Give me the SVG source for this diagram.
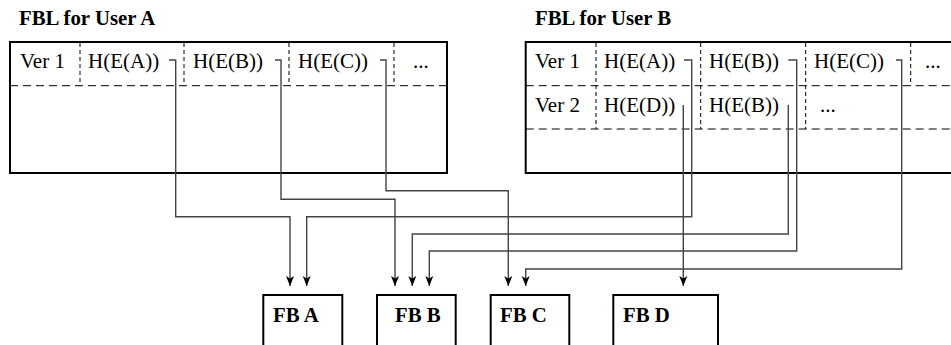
<svg xmlns="http://www.w3.org/2000/svg" width="951" height="345" viewBox="0 0 951 345">
<style>
text{font-family:"Liberation Serif","Times New Roman",serif;fill:#000}
.t{font-size:20.8px;font-weight:bold}
.c{font-size:21px}
.box{fill:#fff;stroke:#000;stroke-width:2}
.d{stroke:#000;stroke-width:1;stroke-dasharray:8,5;fill:none}
.v{stroke:#000;stroke-width:1;stroke-dasharray:4,3;fill:none}
.cn{fill:none;stroke:#444;stroke-width:1.4}
</style>
<defs>
<marker id="ah" markerUnits="userSpaceOnUse" markerWidth="10" markerHeight="10" viewBox="0 0 10 10" refX="10" refY="5" orient="auto">
<path d="M0,1 L10,5 L0,9 L2.5,5 z" fill="#000"/>
</marker>
</defs>
<rect width="951" height="345" fill="#fff"/>
<g id="fbl-a">
<text class="t" x="19" y="25">FBL for User A</text>
<rect class="box" x="10" y="42" width="437" height="131"/>
<line class="d" x1="10" y1="85.7" x2="447" y2="85.7"/>
<line class="v" x1="80" y1="43" x2="80" y2="85.7"/>
<line class="v" x1="184" y1="43" x2="184" y2="85.7"/>
<line class="v" x1="289" y1="43" x2="289" y2="85.7"/>
<line class="v" x1="394" y1="43" x2="394" y2="85.7"/>
<text class="c" x="20" y="68">Ver 1</text>
<text class="c" x="88" y="68">H(E(A))</text>
<text class="c" x="193" y="68">H(E(B))</text>
<text class="c" x="298" y="68">H(E(C))</text>
<text class="c" x="413" y="68">...</text>
</g>
<g id="fbl-b">
<text class="t" x="535" y="25">FBL for User B</text>
<rect class="box" x="525.7" y="42" width="440" height="131"/>
<line class="d" x1="525.7" y1="85.7" x2="951" y2="85.7"/>
<line class="d" x1="525.7" y1="129" x2="951" y2="129"/>
<line class="v" x1="596" y1="43" x2="596" y2="129"/>
<line class="v" x1="700.7" y1="43" x2="700.7" y2="129"/>
<line class="v" x1="805.7" y1="43" x2="805.7" y2="129"/>
<line class="v" x1="910.7" y1="43" x2="910.7" y2="85.7"/>
<text class="c" x="535" y="68">Ver 1</text>
<text class="c" x="604" y="68">H(E(A))</text>
<text class="c" x="709" y="68">H(E(B))</text>
<text class="c" x="814" y="68">H(E(C))</text>
<text class="c" x="925" y="68">...</text>
<text class="c" x="535" y="112">Ver 2</text>
<text class="c" x="604" y="112">H(E(D))</text>
<text class="c" x="709" y="112">H(E(B))</text>
<text class="c" x="820" y="112">...</text>
</g>
<g id="fb-a">
<rect class="box" x="263.3" y="295" width="79" height="60"/>
<text class="t" x="273" y="322">FB A</text>
</g>
<g id="fb-b">
<rect class="box" x="377" y="295" width="78.7" height="60"/>
<text class="t" x="395" y="322">FB B</text>
</g>
<g id="fb-c">
<rect class="box" x="490.7" y="295" width="78.6" height="60"/>
<text class="t" x="500" y="322">FB C</text>
</g>
<g id="fb-d">
<rect class="box" x="613.3" y="295" width="104.7" height="60"/>
<text class="t" x="623" y="322">FB D</text>
</g>
<g id="connectors">
<path class="cn" d="M169,60 H175.7 V216.7 H290 V286" marker-end="url(#ah)"/>
<path class="cn" d="M684,60 H691.7 V216.7 H306.7 V286" marker-end="url(#ah)"/>
<path class="cn" d="M275,60 H281 V199.3 H395 V286" marker-end="url(#ah)"/>
<path class="cn" d="M788.3,105 V234 H412.3 V286" marker-end="url(#ah)"/>
<path class="cn" d="M788.3,60 H796.7 V251 H429.3 V286" marker-end="url(#ah)"/>
<path class="cn" d="M380,60 H386 V190.7 H508.3 V286" marker-end="url(#ah)"/>
<path class="cn" d="M896,60 H901.7 V269 H525.7 V286" marker-end="url(#ah)"/>
<path class="cn" d="M683.3,105 V286" marker-end="url(#ah)"/>
</g>
</svg>
